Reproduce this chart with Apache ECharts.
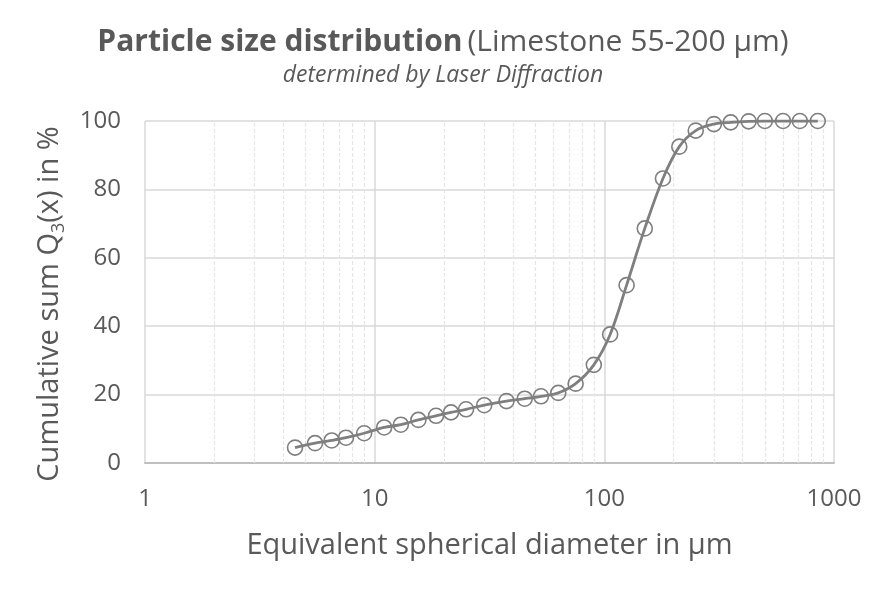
<!DOCTYPE html>
<html>
<head>
<meta charset="utf-8">
<script src="https://cdn.jsdelivr.net/npm/echarts@6/dist/echarts.min.js"></script>
<style>
html,body{margin:0;padding:0;background:#fff;}
#psd{width:886px;height:591px;}
</style>
</head>
<body>
<div id="psd"></div>
<script>
// 粒径 (µm) 和累计分布 Q3 (%)
var diameters = [4.5, 5.5, 6.5, 7.5, 9, 11, 13, 15.5, 18.5, 21.5, 25, 30, 37.5, 45, 53, 63, 75, 90,
	106, 125, 150, 180, 212, 250, 300, 355, 425, 500, 600, 710, 850];
var q3 = [4.5, 5.8, 6.6, 7.4, 8.7, 10.4, 11.2, 12.6, 13.8, 14.8, 15.7, 16.9, 18.1, 18.8, 19.5, 20.5, 23.2, 28.7,
	37.6, 52.0, 68.6, 83.2, 92.5, 97.2, 99.1, 99.6, 99.9, 100, 100, 100, 100];
// 对数轴次网格线位置
var minorGrid = [2, 3, 4, 5, 6, 7, 8, 9, 20, 30, 40, 50, 60, 70, 80, 90, 200, 300, 400, 500, 600, 700, 800, 900];

var points = [];
for (var i = 0; i < diameters.length; i++) {
	points.push([diameters[i], q3[i]]);
}
var minorLines = [];
for (var j = 0; j < minorGrid.length; j++) {
	minorLines.push({xAxis: minorGrid[j]});
}

var font = '"Open Sans", sans-serif';
var psdChart = echarts.init(document.getElementById('psd'));
var option = {
	backgroundColor: '#fff',
	animation: false,
	title: {
		left: 'center',
		top: 22,
		itemGap: 7,
		text: '{b|Particle size distribution} {n|(Limestone 55-200 µm)}',
		textStyle: {
			fontWeight: 'normal',
			rich: {
				b: {fontFamily: font, fontSize: 30, fontWeight: 'bold', color: '#595959'},
				n: {fontFamily: font, fontSize: 30, fontWeight: 'normal', color: '#595959'}
			}
		},
		subtext: 'determined by Laser Diffraction',
		subtextStyle: {fontFamily: font, fontSize: 23, fontStyle: 'italic', color: '#595959'}
	},
	grid: {left: 145, right: 52, top: 121, bottom: 128},
	xAxis: {
		type: 'log',
		logBase: 10,
		min: 1,
		max: 1000,
		name: 'Equivalent spherical diameter in µm',
		nameLocation: 'middle',
		nameGap: 68,
		nameTextStyle: {fontFamily: font, fontSize: 29, color: '#595959'},
		axisLine: {lineStyle: {color: '#bfbfbf', width: 2}},
		axisTick: {show: false},
		axisLabel: {
			fontFamily: font, fontSize: 24, color: '#595959', margin: 24,
			formatter: function (v) { return String(v); }
		},
		splitLine: {show: true, lineStyle: {color: '#d9d9d9', width: 1.5}}
	},
	yAxis: {
		type: 'value',
		min: 0,
		max: 100,
		interval: 20,
		name: 'Cumulative sum Q{s|3}(x) in %',
		nameLocation: 'middle',
		nameRotate: 90,
		nameGap: 77,
		nameTextStyle: {
			fontFamily: font, fontSize: 29, color: '#595959', lineHeight: 36,
			padding: [0, 24, 0, 0],
			rich: {
				s: {fontFamily: font, fontSize: 18, color: '#595959', verticalAlign: 'bottom', lineHeight: 36}
			}
		},
		axisLine: {show: false},
		axisTick: {show: false},
		axisLabel: {fontFamily: font, fontSize: 24, color: '#595959', margin: 24},
		splitLine: {show: true, lineStyle: {color: '#d9d9d9', width: 1.5}}
	},
	series: [
		{
			name: 'Q3',
			type: 'line',
			data: points,
			smooth: 0.35,
			symbol: 'circle',
			symbolSize: 15,
			lineStyle: {color: '#7f7f7f', width: 2.8},
			itemStyle: {color: 'rgba(0,0,0,0)', borderColor: '#7f7f7f', borderWidth: 1.6},
			z: 3,
			markLine: {
				silent: true,
				symbol: ['none', 'none'],
				label: {show: false},
				lineStyle: {color: '#e6e6e6', width: 1.2, type: [4, 2]},
				data: minorLines,
				z: 1
			}
		}
	]
};
psdChart.setOption(option);
</script>
</body>
</html>
